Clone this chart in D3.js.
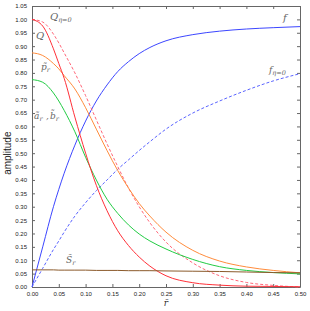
<!DOCTYPE html>
<html>
<head>
<meta charset="utf-8">
<script src="https://cdn.jsdelivr.net/npm/d3@7"></script>
<style>
  body { margin: 0; background: #fff; }
  svg { display: block; }
  .tick text { font-family: "Liberation Sans", Arial, sans-serif; font-size: 6px; fill: #222; }
  .lbl { font-family: "DejaVu Serif", "Liberation Serif", serif; font-style: italic; fill: #666; }
</style>
</head>
<body>
<svg id="chart" width="310" height="311"></svg>
<script>
// r values (shared x grid)
const rGrid = [0, 0.02, 0.04, 0.05, 0.06, 0.08, 0.1, 0.12, 0.14, 0.16, 0.18, 0.2, 0.22, 0.25, 0.3, 0.35, 0.4, 0.45, 0.5];

const fVals = [0, 0.15, 0.30, 0.365, 0.425, 0.53, 0.62, 0.695, 0.755, 0.805, 0.842, 0.872, 0.895, 0.92, 0.943, 0.956, 0.964, 0.969, 0.973];
const fEta0 = [0, 0.07, 0.14, 0.172, 0.205, 0.265, 0.315, 0.36, 0.40, 0.44, 0.475, 0.51, 0.543, 0.59, 0.65, 0.695, 0.735, 0.77, 0.797];
const qVals = [1.0, 0.975, 0.89, 0.835, 0.78, 0.635, 0.5, 0.38, 0.285, 0.21, 0.155, 0.112, 0.078, 0.042, 0.016, 0.007, 0.003, 0.002, 0.001];
const qEta0 = [1.0, 0.99, 0.945, 0.912, 0.875, 0.80, 0.715, 0.625, 0.535, 0.45, 0.37, 0.30, 0.24, 0.168, 0.09, 0.042, 0.017, 0.006, 0.0];
const pVals = [0.875, 0.865, 0.835, 0.815, 0.79, 0.74, 0.67, 0.59, 0.51, 0.435, 0.37, 0.312, 0.265, 0.205, 0.137, 0.097, 0.075, 0.062, 0.053];
const aVals = [0.775, 0.765, 0.725, 0.695, 0.66, 0.58, 0.485, 0.40, 0.328, 0.275, 0.232, 0.198, 0.172, 0.142, 0.103, 0.076, 0.062, 0.054, 0.049];
const sVals = [0.064, 0.064, 0.064, 0.063, 0.063, 0.063, 0.063, 0.062, 0.062, 0.062, 0.061, 0.061, 0.061, 0.060, 0.059, 0.058, 0.056, 0.054, 0.053];

const xTicks = [0, 0.05, 0.1, 0.15, 0.2, 0.25, 0.3, 0.35, 0.4, 0.45, 0.5];
const yTicks = d3.range(0, 22).map(i => +(i * 0.05).toFixed(2));

const series = [
  { vals: fVals, color: "#3c46ff", dash: null },
  { vals: fEta0, color: "#5a64ff", dash: "3,2" },
  { vals: qEta0, color: "#ff6678", dash: "3,2" },
  { vals: pVals, color: "#ff8c3c", dash: null },
  { vals: aVals, color: "#22cc44", dash: null },
  { vals: qVals, color: "#ff3038", dash: null },
  { vals: sVals, color: "#8b5a2b", dash: null }
];

const svg = d3.select("#chart");
const margin = { top: 6, right: 10, bottom: 24, left: 32 };
const width = 310, height = 311;

const x = d3.scaleLinear().domain([0, 0.5]).range([margin.left, width - margin.right]);
const y = d3.scaleLinear().domain([0, 1.05]).range([height - margin.bottom, margin.top]);

// axes with inward ticks on all four sides
const fmt = d3.format(".2f");
const styleAxis = g => {
  g.select(".domain").attr("stroke", "#666");
  g.selectAll(".tick line").attr("stroke", "#666");
};
svg.append("g")
  .attr("transform", `translate(0,${y(0)})`)
  .call(d3.axisBottom(x).tickValues(xTicks).tickFormat(fmt).tickSizeInner(-3).tickSizeOuter(0).tickPadding(5))
  .call(styleAxis);
svg.append("g")
  .attr("transform", `translate(0,${y(1.05)})`)
  .call(d3.axisTop(x).tickValues(xTicks).tickFormat("").tickSizeInner(-3).tickSizeOuter(0))
  .call(styleAxis);
svg.append("g")
  .attr("transform", `translate(${x(0)},0)`)
  .call(d3.axisLeft(y).tickValues(yTicks).tickFormat(fmt).tickSizeInner(-3).tickSizeOuter(0).tickPadding(5))
  .call(styleAxis);
svg.append("g")
  .attr("transform", `translate(${x(0.5)},0)`)
  .call(d3.axisRight(y).tickValues(yTicks).tickFormat("").tickSizeInner(-3).tickSizeOuter(0))
  .call(styleAxis);

// curves
const line = d3.line()
  .x((d, i) => x(rGrid[i]))
  .y(d => y(d))
  .curve(d3.curveMonotoneX);

svg.append("g")
  .selectAll("path")
  .data(series)
  .enter()
  .append("path")
  .attr("d", d => line(d.vals))
  .attr("fill", "none")
  .attr("stroke", d => d.color)
  .attr("stroke-width", 1)
  .attr("stroke-dasharray", d => d.dash);

// curve labels
const labels = svg.append("g").attr("class", "lbl");
function label(px, py, main, sub, size) {
  const t = labels.append("text").attr("x", px).attr("y", py).attr("font-size", size || 10);
  t.append("tspan").text(main);
  if (sub) t.append("tspan").attr("font-size", 6.5).attr("dy", 2).text(sub);
}
label(50, 20, "Q", "η=0");
label(36, 39, "Q");
label(41, 70, "p̃", "r", 9);
label(34, 119, "ã", "r", 9);
labels.append("text").attr("x", 46).attr("y", 119).attr("font-size", 9).text(",");
label(50, 119, "b̃", "r", 9);
label(66, 263, "S̃", "r", 9);
label(283, 21, "f");
label(269, 73, "f", "η=0", 9);

// axis titles
svg.append("text")
  .attr("x", x(0.25)).attr("y", 306)
  .attr("text-anchor", "middle")
  .attr("font-family", "DejaVu Serif, serif").attr("font-style", "italic")
  .attr("font-size", 9).attr("fill", "#333")
  .text("r̄");
svg.append("text")
  .attr("transform", `translate(11,${y(0.5)}) rotate(-90)`)
  .attr("text-anchor", "middle")
  .attr("font-family", "Liberation Sans, Arial, sans-serif")
  .attr("font-size", 10).attr("fill", "#222")
  .text("amplitude");
</script>
</body>
</html>
